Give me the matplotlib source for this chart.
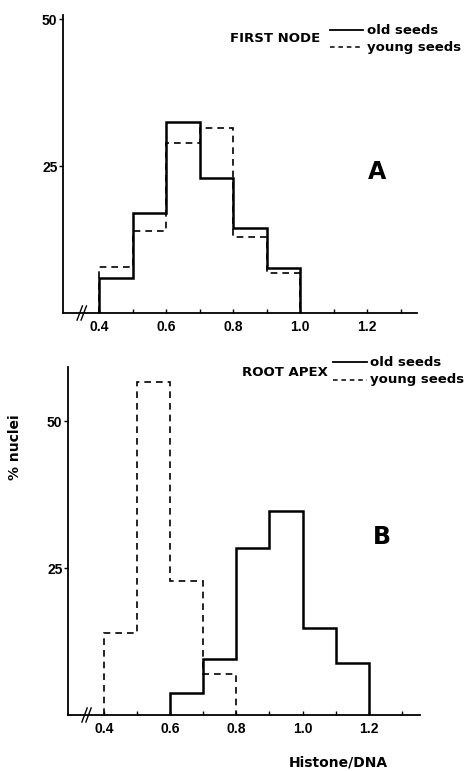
import matplotlib
matplotlib.use("Agg")
import matplotlib.pyplot as plt
import numpy as np

plt.rcParams['font.family'] = ['Liberation Sans', 'DejaVu Sans']

# Panel A: first node
a_old_edges = [0.4, 0.5, 0.6, 0.7, 0.8, 0.9, 1.0]
a_old = [6, 17, 32.5, 23, 14.5, 7.7]
a_young_edges = [0.4, 0.5, 0.6, 0.7, 0.8, 0.9, 1.0]
a_young = [7.8, 14, 29, 31.5, 13, 6.8]

# Panel B: root apex
b_old_edges = [0.6, 0.7, 0.8, 0.9, 1.0, 1.1, 1.2]
b_old = [3.7, 9.5, 28.4, 34.7, 14.8, 8.8]
b_young_edges = [0.4, 0.5, 0.6, 0.7, 0.8]
b_young = [13.9, 56.6, 22.8, 7.0]

xtick_vals = [0.4, 0.6, 0.8, 1.0, 1.2]
xtick_labels = ["0.4", "0.6", "0.8", "1.0", "1.2"]
ytick_vals = [25, 50]
ytick_labels = ["25", "50"]

WIDE = ['DejaVu Sans']

fig = plt.figure(figsize=(4.72, 7.71), dpi=100)

def setup(ax, xlim, ylim, title, letter, letter_xy, leg_xy):
    ax.set_xlim(*xlim)
    ax.set_ylim(*ylim)
    for s in ['top', 'right']:
        ax.spines[s].set_visible(False)
    for s in ['left', 'bottom']:
        ax.spines[s].set_linewidth(1.3)
    ax.set_xticks(xtick_vals)
    ax.set_xticklabels(xtick_labels, fontsize=10, fontweight='bold')
    ax.set_xticks(np.arange(0.5, 1.35, 0.1), minor=True)
    ax.tick_params(axis='x', which='both', direction='in', length=3, width=1, pad=5)
    ax.set_yticks(ytick_vals)
    ax.set_yticklabels(ytick_labels, fontsize=10, fontweight='bold')
    ax.tick_params(axis='y', direction='out', length=3, width=1, pad=1)
    # axis break marks
    xb = xlim[0] + 0.05
    for dx in (0.0, 0.012):
        ax.plot([xb + dx - 0.008, xb + dx + 0.008], [-1.2, 1.2], color='black',
                lw=1.0, clip_on=False, transform=ax.transData)
    ax.text(letter_xy[0], letter_xy[1], letter, fontsize=17, fontweight='bold',
            ha='center', va='center', transform=ax.transAxes, family=WIDE)
    lx, ly = leg_xy
    ax.text(lx, ly, title, fontsize=9.5, fontweight='bold', ha='right', va='center',
            transform=ax.transAxes, family=WIDE)

def legend_lines(ax, x0, x1, y1, y2, xt):
    ax.plot([x0, x1], [y1, y1], color='black', lw=1.3, transform=ax.transAxes, clip_on=False)
    ax.plot([x0, x1], [y2, y2], color='black', lw=1.1, ls=(0, (3, 2.5)),
            transform=ax.transAxes, clip_on=False)
    ax.text(xt, y1, "old seeds", fontsize=9.5, fontweight='bold', ha='left', va='center',
            transform=ax.transAxes, family=WIDE)
    ax.text(xt, y2, "young seeds", fontsize=9.5, fontweight='bold', ha='left', va='center',
            transform=ax.transAxes, family=WIDE)

# Panel A
axA = fig.add_axes([63/472, 1-313/771, (417-63)/472, (313-15)/771])
axA.stairs(a_young, a_young_edges, color='black', lw=1.2, ls=(0, (4, 3)), baseline=0)
axA.stairs(a_old, a_old_edges, color='black', lw=1.8, baseline=0)
setup(axA, (0.2925, 1.349), (0, 50.7), "FIRST NODE", "A",
      ((377-63)/354, (313-172)/298), ((320-63)/354, (313-39)/298))
legend_lines(axA, (330-63)/354, (363-63)/354, (313-30)/298, (313-47)/298, (367-63)/354)

# Panel B
axB = fig.add_axes([68/472, 1-715/771, (420-68)/472, (715-367)/771])
axB.stairs(b_young, b_young_edges, color='black', lw=1.2, ls=(0, (4, 3)), baseline=0)
axB.stairs(b_old, b_old_edges, color='black', lw=1.8, baseline=0)
setup(axB, (0.291, 1.355), (0, 59.2), "ROOT APEX", "B",
      ((382-68)/352, (715-537)/348), ((328-68)/352, (715-372)/348))
legend_lines(axB, (333-68)/352, (367-68)/352, (715-362)/348, (715-380)/348, (370-68)/352)

fig.text(15/472, 1-447/771, "% nuclei", rotation=90, fontsize=10, fontweight='bold',
         ha='center', va='center', family=WIDE)
fig.text(338/472, 1-762/771, "Histone/DNA", fontsize=10, fontweight='bold',
         ha='center', va='center', family=WIDE)

fig.savefig("out.png", dpi=100)
